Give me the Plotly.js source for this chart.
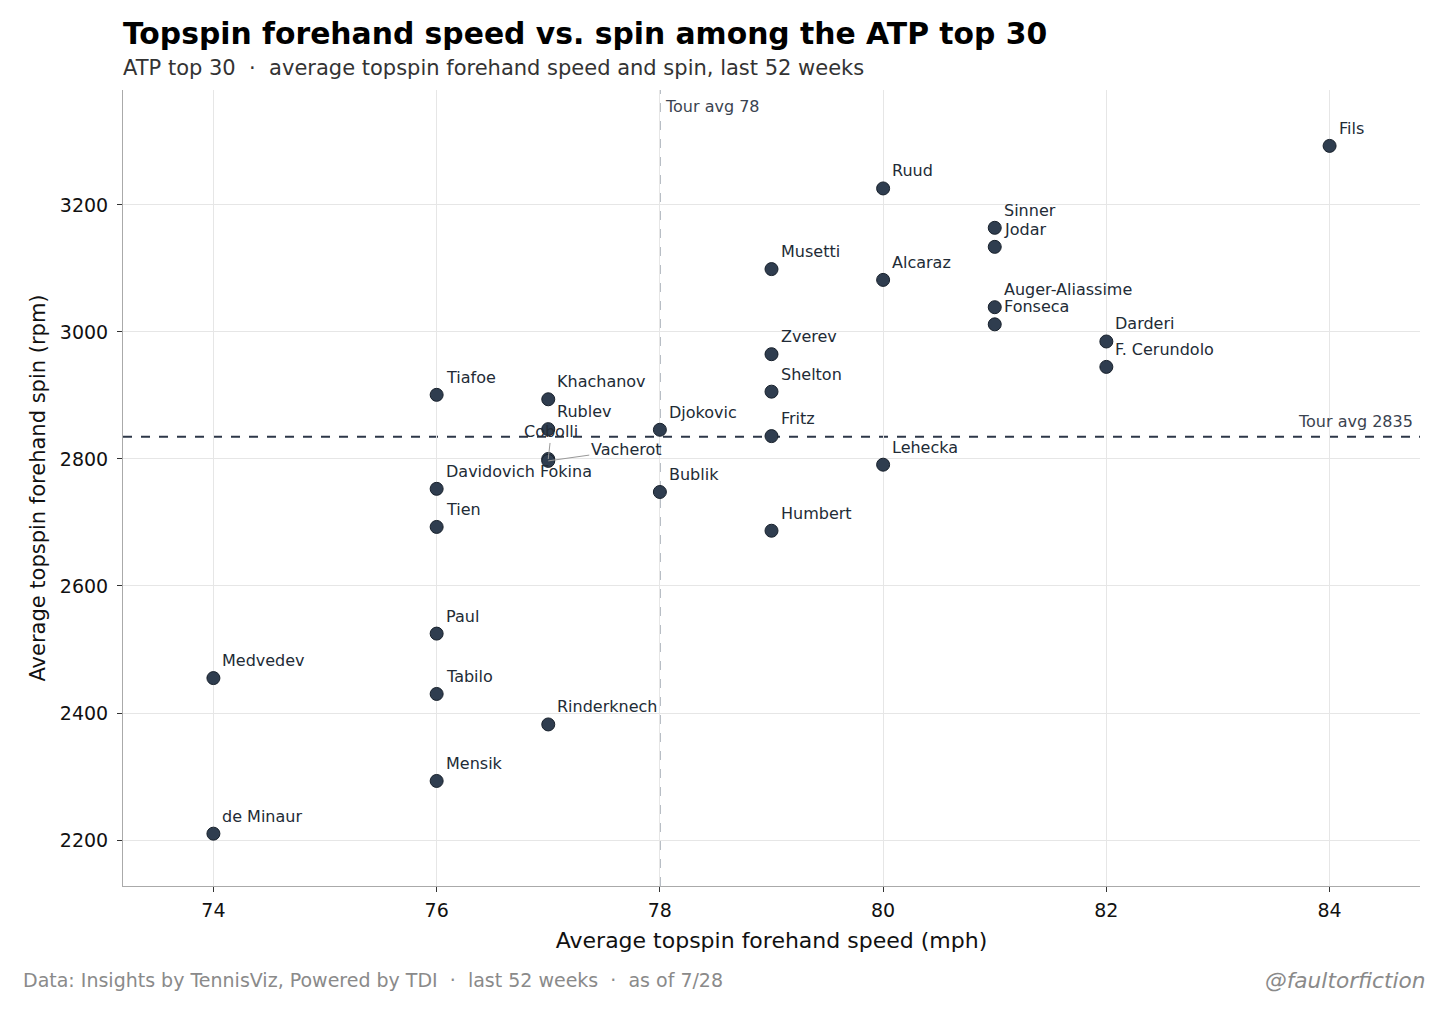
<!DOCTYPE html>
<html>
<head>
<meta charset="utf-8">
<script src="https://cdn.plot.ly/plotly-3.0.1.min.js"></script>
<style>
  html, body { margin: 0; padding: 0; background: #fff; }
  #chart { width: 1456px; height: 1015px; }
</style>
</head>
<body>
<div id="chart"></div>
<script>
// players, speed (mph), spin (rpm)
var players = ['Fils', 'Ruud', 'Sinner', 'Jodar', 'Musetti', 'Alcaraz', 'Auger-Aliassime', 'Fonseca',
    'Darderi', 'F. Cerundolo', 'Zverev', 'Shelton', 'Tiafoe', 'Khachanov', 'Rublev', 'Djokovic',
    'Fritz', 'Cobolli', 'Vacherot', 'Lehecka', 'Davidovich Fokina', 'Bublik', 'Tien', 'Humbert',
    'Paul', 'Medvedev', 'Tabilo', 'Rinderknech', 'Mensik', 'de Minaur']
var speed = [84, 80, 81, 81, 79, 80, 81, 81,
    82, 82, 79, 79, 76, 77, 77, 78,
    79, 77, 77, 80, 76, 78, 76, 79,
    76, 74, 76, 77, 76, 74]
var spin = [3293, 3226, 3164, 3134, 3099, 3082, 3039, 3012,
    2985, 2945, 2965, 2906, 2901, 2894, 2847, 2846,
    2836, 2800, 2797, 2791, 2753, 2748, 2693, 2687,
    2525, 2455, 2430, 2382, 2293, 2210]
var tourAvgSpeed = 78
var tourAvgSpin = 2835

var font = 'DejaVu Sans'

// labels that are pushed off the point with a leader line
var leader = {
    'Cobolli': [3, -27],
    'Vacherot': [78, -11]
}

var annotations = []
players.forEach(function(name, i) {
    if (leader[name]) {
        annotations.push({
            x: speed[i], y: spin[i], text: name,
            showarrow: true, arrowhead: 0, arrowwidth: 1, arrowcolor: '#999999',
            ax: leader[name][0], ay: leader[name][1],
            font: {family: font, size: 16, color: '#222b36'}
        })
    } else {
        annotations.push({
            x: speed[i], y: spin[i], text: name,
            showarrow: false, xanchor: 'left', yanchor: 'bottom',
            xshift: 7, yshift: 6,
            font: {family: font, size: 16, color: '#222b36'}
        })
    }
})

// reference line labels
annotations.push({
    x: tourAvgSpeed, y: 1, xref: 'x', yref: 'paper', text: 'Tour avg 78',
    showarrow: false, xanchor: 'left', yanchor: 'top', xshift: 3, yshift: -5,
    font: {family: font, size: 16, color: '#3a4350'}
})
annotations.push({
    x: 1, y: tourAvgSpin, xref: 'paper', yref: 'y', text: 'Tour avg 2835',
    showarrow: false, xanchor: 'right', yanchor: 'bottom', xshift: -5, yshift: 4,
    font: {family: font, size: 16, color: '#3a4350'}
})

// title, subtitle, footer
annotations.push({
    x: 0, y: 1, xref: 'paper', yref: 'paper', text: '<b>Topspin forehand speed vs. spin among the ATP top 30</b>',
    showarrow: false, xanchor: 'left', yanchor: 'middle', yshift: 57, xshift: -2,
    font: {family: font, size: 29.8, color: '#000000'}
})
annotations.push({
    x: 0, y: 1, xref: 'paper', yref: 'paper',
    text: 'ATP top 30  \u00b7  average topspin forehand speed and spin, last 52 weeks',
    showarrow: false, xanchor: 'left', yanchor: 'middle', yshift: 22, xshift: -2,
    font: {family: font, size: 21, color: '#333333'}
})
annotations.push({
    x: 0, y: 0, xref: 'paper', yref: 'paper',
    text: 'Data: Insights by TennisViz, Powered by TDI  \u00b7  last 52 weeks  \u00b7  as of 7/28',
    showarrow: false, xanchor: 'left', yanchor: 'middle', yshift: -94, xshift: -102,
    font: {family: font, size: 19, color: '#8a8a8a'}
})
annotations.push({
    x: 1, y: 0, xref: 'paper', yref: 'paper', text: '<i>@faultorfiction</i>',
    showarrow: false, xanchor: 'right', yanchor: 'middle', yshift: -94, xshift: 8,
    font: {family: font, size: 21.7, color: '#8a8a8a'}
})

var trace = {
    x: speed,
    y: spin,
    text: players,
    mode: 'markers',
    type: 'scatter',
    hoverinfo: 'text+x+y',
    marker: {size: 13, color: '#2f3d4f', line: {color: '#18212c', width: 1}}
}

var layout = {
    width: 1456,
    height: 1015,
    paper_bgcolor: '#ffffff',
    plot_bgcolor: '#ffffff',
    showlegend: false,
    font: {family: font, color: '#000000'},
    margin: {l: 123, r: 36, t: 90, b: 129},
    xaxis: {
        range: [73.19, 84.81],
        dtick: 2,
        tick0: 74,
        showgrid: true,
        gridcolor: '#e6e6e6',
        zeroline: false,
        showline: true,
        linecolor: '#aaaaaa',
        linewidth: 1,
        ticks: 'outside',
        ticklen: 5,
        tickcolor: '#333333',
        ticklabelstandoff: 2,
        tickfont: {family: font, size: 19, color: '#111111'},
        title: {text: 'Average topspin forehand speed (mph)', standoff: 12,
            font: {family: font, size: 22, color: '#111111'}}
    },
    yaxis: {
        range: [2127.6, 3381],
        dtick: 200,
        showgrid: true,
        gridcolor: '#e6e6e6',
        zeroline: false,
        showline: true,
        linecolor: '#aaaaaa',
        linewidth: 1,
        ticks: 'outside',
        ticklen: 5,
        tickcolor: '#333333',
        ticklabelstandoff: 5,
        tickfont: {family: font, size: 19, color: '#111111'},
        title: {text: 'Average topspin forehand spin (rpm)', standoff: 8,
            font: {family: font, size: 21, color: '#111111'}}
    },
    shapes: [{
        type: 'line', xref: 'x', yref: 'paper', x0: tourAvgSpeed, x1: tourAvgSpeed, y0: 0, y1: 1,
        line: {color: '#8f98a3', width: 1.5, dash: 'dash'}, layer: 'below'
    }, {
        type: 'line', xref: 'paper', yref: 'y', x0: 0, x1: 1, y0: tourAvgSpin, y1: tourAvgSpin,
        line: {color: '#2d3748', width: 2, dash: 'dash'}, layer: 'below'
    }],
    annotations: annotations
}

Plotly.newPlot('chart', [trace], layout, {displayModeBar: false})
</script>
</body>
</html>
